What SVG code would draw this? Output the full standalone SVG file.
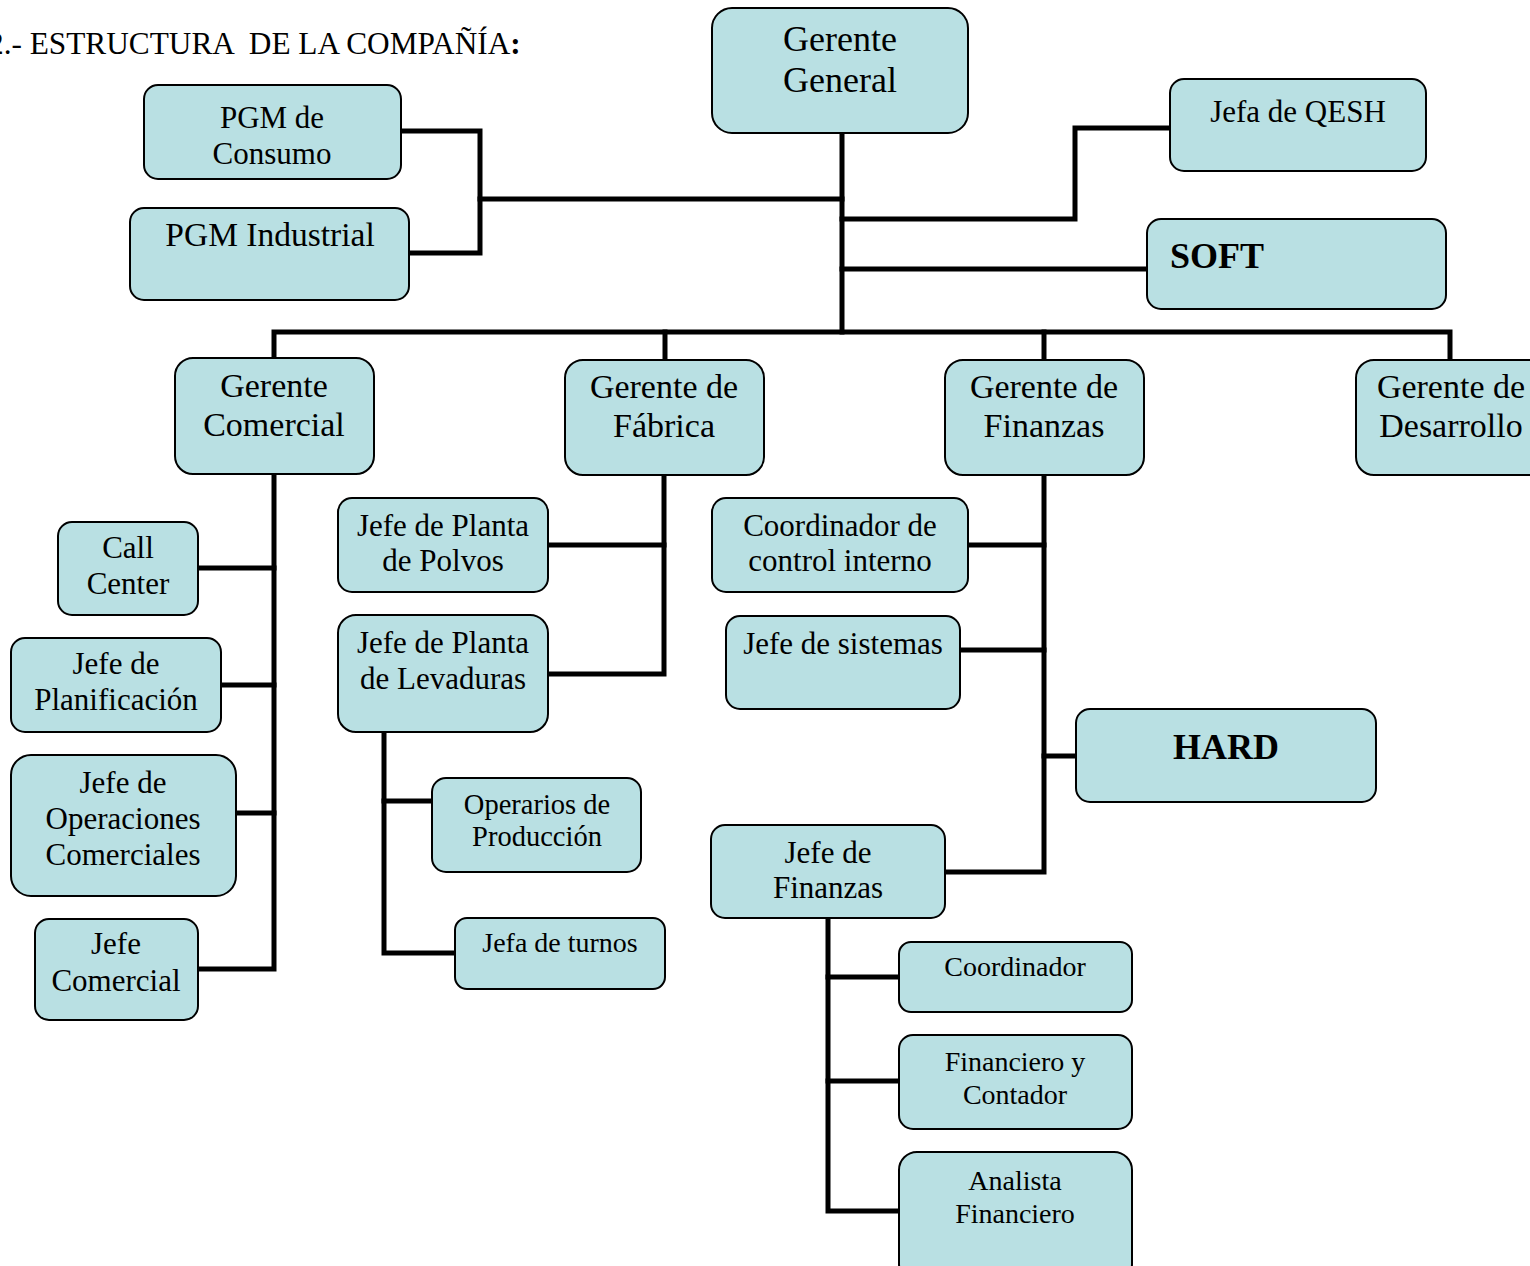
<svg xmlns="http://www.w3.org/2000/svg" width="1530" height="1266" viewBox="0 0 1530 1266">
<style>
.b{fill:#B9E0E3;stroke:#000;stroke-width:2}
.t{font-family:'Liberation Serif','Times New Roman',serif;fill:#000;text-anchor:middle}
.f31{font-size:31px}
.f28{font-size:28px}
.f34{font-size:34px}
.f36{font-size:36px}
.bold{font-weight:bold}
.c{fill:none;stroke:#000;stroke-width:5;stroke-linecap:square;stroke-linejoin:miter}
</style>
<rect width="1530" height="1266" fill="#fff"/>
<text x="-12" y="54" xml:space="preserve" style="font-family:'Liberation Serif','Times New Roman',serif;font-size:31.3px;white-space:pre">2.- ESTRUCTURA  DE LA COMPAÑÍA<tspan font-weight="bold">:</tspan></text>

<g id="connectors">
<path class="c" d="M842 134V332"/>
<path class="c" d="M842 199H480"/>
<path class="c" d="M402 131H480V253H410"/>
<path class="c" d="M842 219H1075V128H1169"/>
<path class="c" d="M842 269H1146"/>
<path class="c" d="M274 358V332H1450V359"/>
<path class="c" d="M665 332V359"/>
<path class="c" d="M1044 332V359"/>
<path class="c" d="M274 475V969H199"/>
<path class="c" d="M274 568H199"/>
<path class="c" d="M274 685H222"/>
<path class="c" d="M274 813H237"/>
<path class="c" d="M664 476V674H549"/>
<path class="c" d="M664 545H549"/>
<path class="c" d="M384 733V953H454"/>
<path class="c" d="M384 801H431"/>
<path class="c" d="M1044 476V872H946"/>
<path class="c" d="M1044 545H969"/>
<path class="c" d="M1044 650H961"/>
<path class="c" d="M1044 756H1075"/>
<path class="c" d="M828 919V1211H898"/>
<path class="c" d="M828 977H898"/>
<path class="c" d="M828 1081H898"/>
</g>

<g id="gerente-general"><rect class="b" x="712" y="8" width="256" height="125" rx="20"/><text class="t f36" x="840" y="51">Gerente</text><text class="t f36" x="840" y="92">General</text></g>
<g id="pgm-consumo"><rect class="b" x="144" y="85" width="257" height="94" rx="14"/><text class="t f31" x="272" y="128">PGM de</text><text class="t f31" x="272" y="164">Consumo</text></g>
<g id="pgm-industrial"><rect class="b" x="130" y="208" width="279" height="92" rx="14"/><text class="t" x="270" y="246" style="font-size:33.5px">PGM Industrial</text></g>
<g id="jefa-qesh"><rect class="b" x="1170" y="79" width="256" height="92" rx="14"/><text class="t f31" x="1298" y="122">Jefa de QESH</text></g>
<g id="soft"><rect class="b" x="1147" y="219" width="299" height="90" rx="14"/><text class="t f36 bold" x="1170" y="268" style="text-anchor:start">SOFT</text></g>
<g id="gerente-comercial"><rect class="b" x="175" y="358" width="199" height="116" rx="18"/><text class="t f34" x="274" y="397">Gerente</text><text class="t f34" x="274" y="436">Comercial</text></g>
<g id="gerente-fabrica"><rect class="b" x="565" y="360" width="199" height="115" rx="18"/><text class="t f34" x="664" y="398">Gerente de</text><text class="t f34" x="664" y="437">Fábrica</text></g>
<g id="gerente-finanzas"><rect class="b" x="945" y="360" width="199" height="115" rx="18"/><text class="t f34" x="1044" y="398">Gerente de</text><text class="t f34" x="1044" y="437">Finanzas</text></g>
<g id="gerente-desarrollo"><rect class="b" x="1356" y="360" width="190" height="115" rx="18"/><text class="t f34" x="1451" y="398">Gerente de</text><text class="t f34" x="1451" y="437">Desarrollo</text></g>
<g id="call-center"><rect class="b" x="58" y="522" width="140" height="93" rx="14"/><text class="t f31" x="128" y="558">Call</text><text class="t f31" x="128" y="594">Center</text></g>
<g id="jefe-planificacion"><rect class="b" x="11" y="638" width="210" height="94" rx="14"/><text class="t f31" x="116" y="674">Jefe de</text><text class="t f31" x="116" y="710">Planificación</text></g>
<g id="jefe-operaciones"><rect class="b" x="11" y="755" width="225" height="141" rx="20"/><text class="t f31" x="123" y="793">Jefe de</text><text class="t f31" x="123" y="829">Operaciones</text><text class="t f31" x="123" y="865">Comerciales</text></g>
<g id="jefe-comercial"><rect class="b" x="35" y="919" width="163" height="101" rx="14"/><text class="t f31" x="116" y="954">Jefe</text><text class="t f31" x="116" y="991">Comercial</text></g>
<g id="jefe-polvos"><rect class="b" x="338" y="498" width="210" height="94" rx="14"/><text class="t f31" x="443" y="536">Jefe de Planta</text><text class="t f31" x="443" y="571">de Polvos</text></g>
<g id="jefe-levaduras"><rect class="b" x="338" y="615" width="210" height="117" rx="18"/><text class="t f31" x="443" y="653">Jefe de Planta</text><text class="t f31" x="443" y="689">de Levaduras</text></g>
<g id="operarios"><rect class="b" x="432" y="778" width="209" height="94" rx="14"/><text class="t" x="537" y="814" style="font-size:28.5px">Operarios de</text><text class="t" x="537" y="846" style="font-size:28.5px">Producción</text></g>
<g id="jefa-turnos"><rect class="b" x="455" y="918" width="210" height="71" rx="12"/><text class="t f28" x="560" y="952">Jefa de turnos</text></g>
<g id="coordinador-control"><rect class="b" x="712" y="498" width="256" height="94" rx="14"/><text class="t f31" x="840" y="536">Coordinador de</text><text class="t f31" x="840" y="571">control interno</text></g>
<g id="jefe-sistemas"><rect class="b" x="726" y="616" width="234" height="93" rx="14"/><text class="t f31" x="843" y="654">Jefe de sistemas</text></g>
<g id="hard"><rect class="b" x="1076" y="709" width="300" height="93" rx="14"/><text class="t f36 bold" x="1226" y="759">HARD</text></g>
<g id="jefe-finanzas"><rect class="b" x="711" y="825" width="234" height="93" rx="14"/><text class="t f31" x="828" y="863">Jefe de</text><text class="t f31" x="828" y="898">Finanzas</text></g>
<g id="coordinador"><rect class="b" x="899" y="942" width="233" height="70" rx="12"/><text class="t f28" x="1015" y="976">Coordinador</text></g>
<g id="financiero-contador"><rect class="b" x="899" y="1035" width="233" height="94" rx="14"/><text class="t f28" x="1015" y="1071">Financiero y</text><text class="t f28" x="1015" y="1104">Contador</text></g>
<g id="analista"><rect class="b" x="899" y="1152" width="233" height="130" rx="18"/><text class="t f28" x="1015" y="1190">Analista</text><text class="t f28" x="1015" y="1223">Financiero</text></g>
</svg>
